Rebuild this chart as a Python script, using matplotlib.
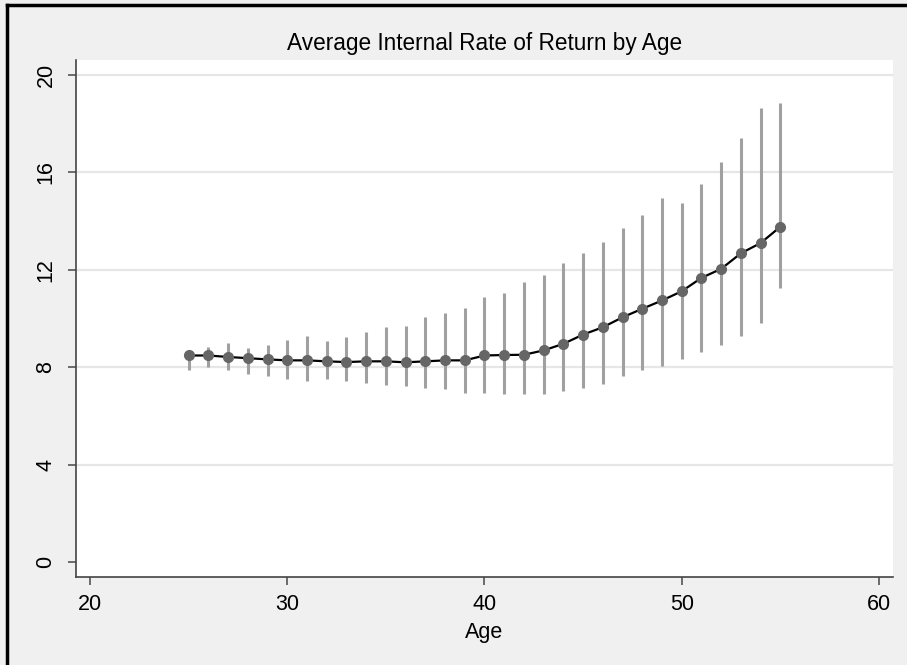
import numpy as np
import matplotlib.pyplot as plt
from matplotlib.lines import Line2D

plt.rcParams['font.family'] = ['Liberation Sans', 'DejaVu Sans']

# average IRR by age, with lower / upper bounds of the interval
ages = list(range(25, 56))
irr_mean = [8.48, 8.48, 8.42, 8.37, 8.32, 8.28, 8.28, 8.24, 8.21, 8.24,
            8.24, 8.20, 8.24, 8.28, 8.28, 8.48, 8.50, 8.51, 8.69, 8.96,
            9.34, 9.64, 10.05, 10.40, 10.74, 11.12, 11.67, 12.04, 12.68, 13.10,
            13.77]
irr_low = [7.87, 8.00, 7.87, 7.73, 7.62, 7.53, 7.45, 7.53, 7.45, 7.35,
           7.25, 7.21, 7.16, 7.12, 6.94, 6.94, 6.89, 6.89, 6.89, 7.02,
           7.16, 7.30, 7.63, 7.87, 8.03, 8.33, 8.61, 8.93, 9.30, 9.82,
           11.26]
irr_high = [8.70, 8.82, 9.00, 8.78, 8.92, 9.10, 9.30, 9.06, 9.23, 9.43,
            9.67, 9.71, 10.08, 10.22, 10.44, 10.87, 11.05, 11.52, 11.80, 12.27,
            12.68, 13.16, 13.72, 14.26, 14.93, 14.73, 15.52, 16.41, 17.43, 18.63,
            18.87]
x_ticks = [20, 30, 40, 50, 60]
y_ticks = [0, 4, 8, 12, 16, 20]

fig = plt.figure(figsize=(9.07, 6.65), dpi=100, facecolor='#f0f0f0')
ax = fig.add_axes([76/907, 88/665, 817/907, 517/665])
ax.set_facecolor('white')

for y in y_ticks[1:]:
    ax.axhline(y, color='#e6e6e6', linewidth=1.6, zorder=0)

ax.vlines(ages, irr_low, irr_high, color='#a0a0a0', linewidth=2.2, zorder=2)
ax.plot(ages, irr_mean, color='black', linewidth=1.6, zorder=3)
ax.plot(ages, irr_mean, 'o', color='#666666', markersize=7, zorder=4)

ax.set_xlim(19.29, 60.71)
ax.set_ylim(-0.62, 20.62)
ax.set_xticks(x_ticks)
ax.set_yticks(y_ticks)
ax.set_yticklabels([str(v) for v in y_ticks], rotation=90, va='center')

for side in ['top', 'right']:
    ax.spines[side].set_visible(False)
for side in ['left', 'bottom']:
    ax.spines[side].set_color('#444444')
    ax.spines[side].set_linewidth(1.2)
ax.tick_params(axis='both', length=6, width=1.2, color='#555555', labelsize=15.5)
ax.tick_params(axis='x', pad=6.5)
ax.tick_params(axis='y', pad=8)

ax.set_title('Average Internal Rate of Return by Age', fontsize=16.3, pad=7)
ax.set_xlabel('Age', fontsize=15.5, labelpad=5)

# black frame round the figure (top and left visible)
fig.add_artist(Line2D([7/907, 1], [1 - 5/665, 1 - 5/665], color='black', linewidth=2.5,
                      transform=fig.transFigure))
fig.add_artist(Line2D([7/907, 7/907], [0, 1 - 5/665], color='black', linewidth=2.5,
                      transform=fig.transFigure))

fig.savefig('out.png', dpi=100, facecolor=fig.get_facecolor())
